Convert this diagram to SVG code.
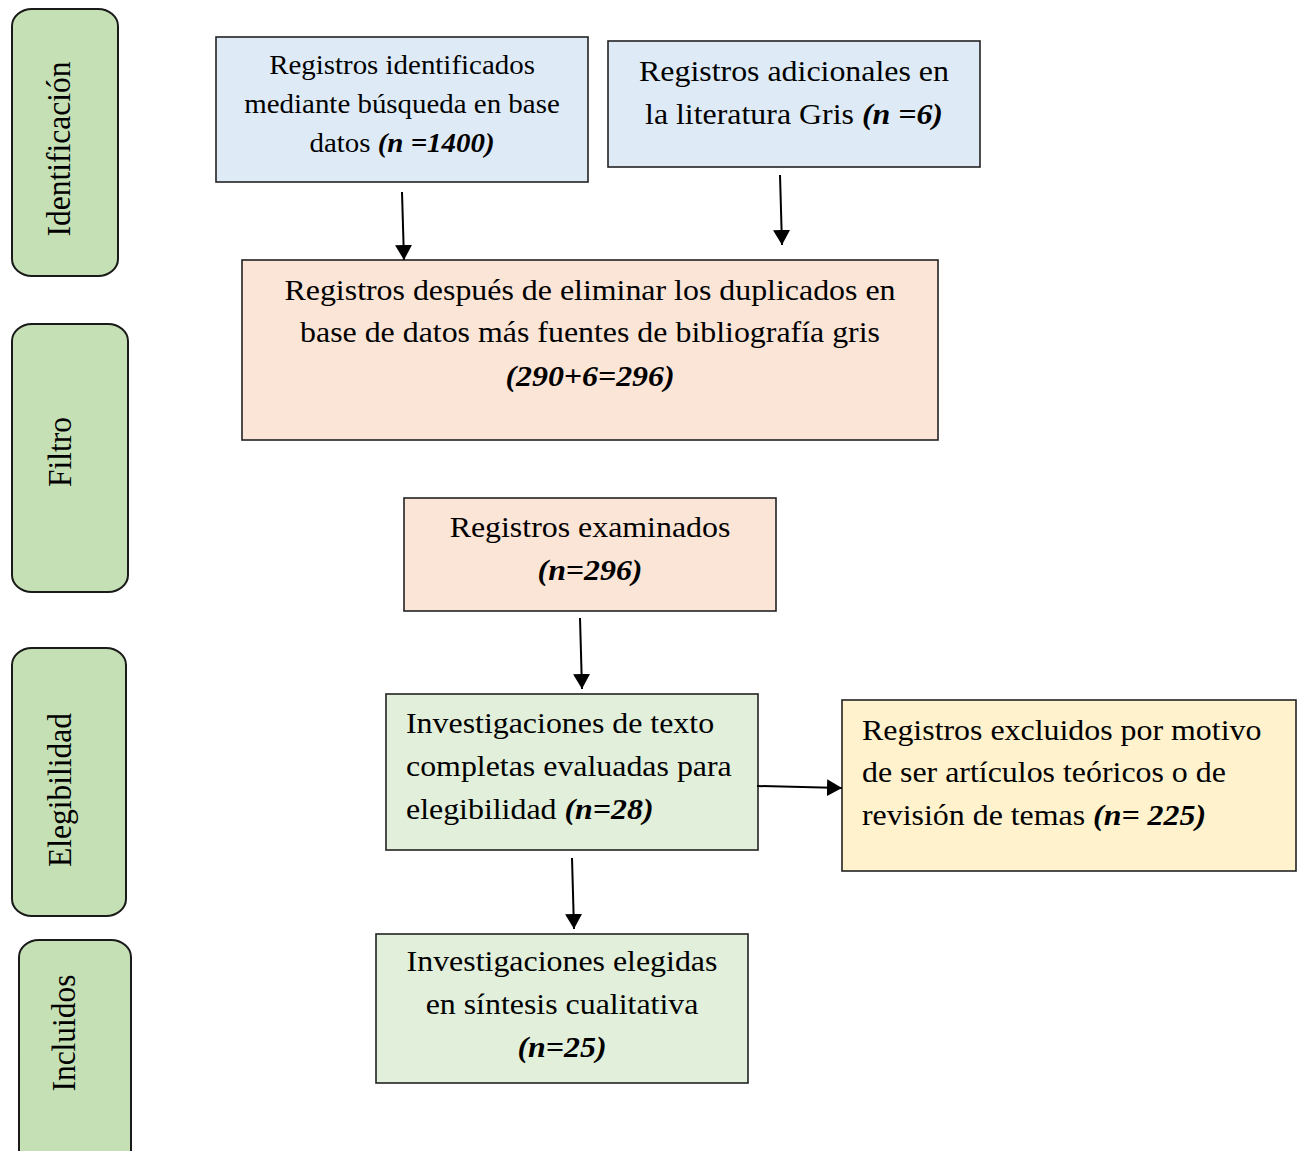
<svg xmlns="http://www.w3.org/2000/svg" width="1304" height="1151" viewBox="0 0 1304 1151">
  <style>
    .phase { fill: #c5e0b4; stroke: #1a1a1a; stroke-width: 2; }
    .box { stroke: #222; stroke-width: 1.6; }
    .blue { fill: #deebf7; }
    .peach { fill: #fbe5d6; }
    .green { fill: #e2efda; }
    .yellow { fill: #fff2cc; }
    text { font-family: "Liberation Serif", "Times New Roman", serif; fill: #000; }
    .mid { text-anchor: middle; }
    .lbl { font-size: 31.5px; text-anchor: middle; }
    .t26 { font-size: 26.3px; }
    .t29 { font-size: 29px; }
    .bi { font-weight: bold; font-style: italic; }
    .conn line { stroke: #000; stroke-width: 2; }
  </style>
  <defs>
    <marker id="arrow" markerUnits="userSpaceOnUse" markerWidth="16" markerHeight="18" refX="15" refY="8.5" orient="auto">
      <path d="M0,0 L15,8.5 L0,17 Z" fill="#000"/>
    </marker>
  </defs>

  <rect width="1304" height="1151" fill="#fff"/>

  <!-- phase labels down the left side (all lettering is set 1.1x wide) -->
  <g id="phase-identificacion">
    <rect class="phase" x="12" y="9" width="106" height="267" rx="20" ry="17"/>
    <text class="lbl" transform="translate(70,149) scale(1.1,1) rotate(-90)">Identificación</text>
  </g>
  <g id="phase-filtro">
    <rect class="phase" x="12" y="324" width="116" height="268" rx="20" ry="17"/>
    <text class="lbl" transform="translate(71,452) scale(1.1,1) rotate(-90)">Filtro</text>
  </g>
  <g id="phase-elegibilidad">
    <rect class="phase" x="12" y="648" width="114" height="268" rx="20" ry="17"/>
    <text class="lbl" transform="translate(71,790) scale(1.1,1) rotate(-90)">Elegibilidad</text>
  </g>
  <g id="phase-incluidos">
    <rect class="phase" x="19" y="940" width="112" height="230" rx="20" ry="17"/>
    <text class="lbl" transform="translate(75,1033) scale(1.1,1) rotate(-90)">Incluidos</text>
  </g>

  <!-- flow boxes -->
  <g id="node-busqueda">
    <rect class="box blue" x="216" y="37" width="372" height="145"/>
    <text class="t26 mid" transform="translate(402,74) scale(1.1,1)">Registros identificados</text>
    <text class="t26 mid" transform="translate(402,113) scale(1.1,1)">mediante búsqueda en base</text>
    <text class="t26 mid" transform="translate(402,152) scale(1.1,1)">datos <tspan class="bi">(n =1400)</tspan></text>
  </g>

  <g id="node-gris">
    <rect class="box blue" x="608" y="41" width="372" height="126"/>
    <text class="t29 mid" transform="translate(794,81) scale(1.1,1)">Registros adicionales en</text>
    <text class="t29 mid" transform="translate(794,124) scale(1.1,1)">la literatura Gris <tspan class="bi">(n =6)</tspan></text>
  </g>

  <g id="node-duplicados">
    <rect class="box peach" x="242" y="260" width="696" height="180"/>
    <text class="t29 mid" transform="translate(590,300) scale(1.1,1)">Registros después de eliminar los duplicados en</text>
    <text class="t29 mid" transform="translate(590,342) scale(1.1,1)">base de datos más fuentes de bibliografía gris</text>
    <text class="t29 mid bi" transform="translate(590,386) scale(1.1,1)">(290+6=296)</text>
  </g>

  <g id="node-examinados">
    <rect class="box peach" x="404" y="498" width="372" height="113"/>
    <text class="t29 mid" transform="translate(590,537) scale(1.1,1)">Registros examinados</text>
    <text class="t29 mid bi" transform="translate(590,580) scale(1.1,1)">(n=296)</text>
  </g>

  <g id="node-elegibilidad">
    <rect class="box green" x="386" y="694" width="372" height="156"/>
    <text class="t29" transform="translate(406,733) scale(1.1,1)">Investigaciones de texto</text>
    <text class="t29" transform="translate(406,776) scale(1.1,1)">completas evaluadas para</text>
    <text class="t29" transform="translate(406,819) scale(1.1,1)">elegibilidad <tspan class="bi">(n=28)</tspan></text>
  </g>

  <g id="node-excluidos">
    <rect class="box yellow" x="842" y="700" width="454" height="171"/>
    <text class="t29" transform="translate(862,740) scale(1.1,1)">Registros excluidos por motivo</text>
    <text class="t29" transform="translate(862,782) scale(1.1,1)">de ser artículos teóricos o de</text>
    <text class="t29" transform="translate(862,825) scale(1.1,1)">revisión de temas <tspan class="bi">(n= 225)</tspan></text>
  </g>

  <g id="node-incluidos">
    <rect class="box green" x="376" y="934" width="372" height="149"/>
    <text class="t29 mid" transform="translate(562,971) scale(1.1,1)">Investigaciones elegidas</text>
    <text class="t29 mid" transform="translate(562,1014) scale(1.1,1)">en síntesis cualitativa</text>
    <text class="t29 mid bi" transform="translate(562,1057) scale(1.1,1)">(n=25)</text>
  </g>

  <!-- connectors -->
  <g id="connectors" class="conn">
    <line x1="402" y1="192" x2="404" y2="260" marker-end="url(#arrow)"/>
    <line x1="780" y1="175" x2="782" y2="245" marker-end="url(#arrow)"/>
    <line x1="580" y1="618" x2="582" y2="689" marker-end="url(#arrow)"/>
    <line x1="757" y1="786" x2="842" y2="788" marker-end="url(#arrow)"/>
    <line x1="572" y1="858" x2="574" y2="929" marker-end="url(#arrow)"/>
  </g>
</svg>
